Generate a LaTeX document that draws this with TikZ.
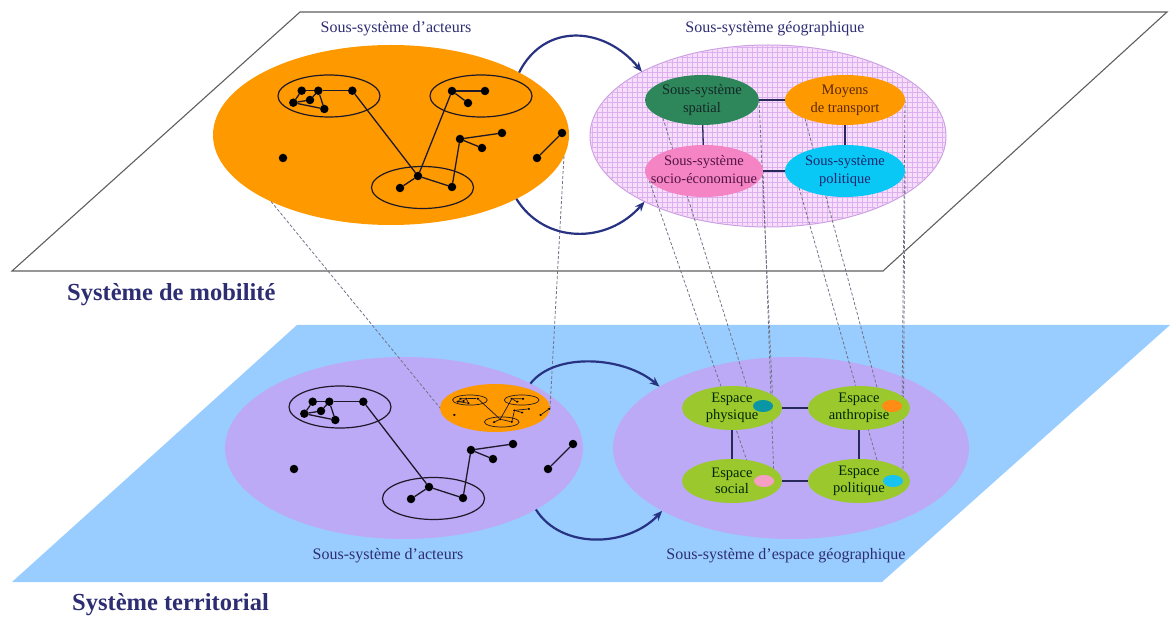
\documentclass[tikz,border=0pt]{standalone}
\usepackage{fontspec}
\setmainfont{Liberation Serif}
\usetikzlibrary{shapes.geometric,arrows.meta}
\pgfdeclarelayer{back}
\pgfdeclarelayer{mid}
\pgfsetlayers{back,mid,main}

\definecolor{navy}{RGB}{45,45,115}
\definecolor{arrowblue}{RGB}{40,50,130}
\definecolor{orangeA}{RGB}{255,153,0}
\definecolor{violetA}{RGB}{188,170,246}
\definecolor{planeblue}{RGB}{153,204,255}
\definecolor{planeedge}{RGB}{95,95,95}
\definecolor{gridfill}{RGB}{247,222,250}
\definecolor{gridline}{RGB}{220,175,238}
\definecolor{gridedge}{RGB}{205,160,228}
\definecolor{greenA}{RGB}{46,135,90}
\definecolor{pinkA}{RGB}{244,132,196}
\definecolor{cyanA}{RGB}{10,200,245}
\definecolor{limeA}{RGB}{155,200,45}
\definecolor{tealdot}{RGB}{10,150,165}
\definecolor{orangedot}{RGB}{255,140,20}
\definecolor{pinkdot}{RGB}{245,160,195}
\definecolor{cyandot}{RGB}{25,195,240}
\definecolor{dashgray}{RGB}{115,115,135}
\definecolor{netline}{RGB}{30,25,40}
\definecolor{linkcol}{RGB}{40,40,90}

\tikzset{
  netdot/.style={circle, fill=black, inner sep=0pt, outer sep=0pt, minimum size=8.5pt},
  netedge/.style={draw=netline, line width=1.3pt},
  cluster/.style={draw=netline, line width=1.2pt},
  bigell/.style={ellipse, inner sep=0pt, outer sep=0pt},
  subsys/.style={ellipse, inner sep=0pt, outer sep=0pt, minimum height=50pt},
  subtxt/.style={align=center, inner sep=0pt, font=\fontsize{14.5}{18}\selectfont},
  espace/.style={ellipse, fill=limeA, inner sep=0pt, outer sep=0pt, minimum width=100pt, minimum height=44pt},
  espacetxt/.style={align=center, inner sep=0pt, font=\fontsize{14.5}{16.5}\selectfont, text=black!85!green},
  smalldot/.style={ellipse, inner sep=0pt, outer sep=0pt, minimum width=20pt, minimum height=12pt},
  proj/.style={draw=dashgray, dash pattern=on 3pt off 2pt, line width=0.8pt},
  linkline/.style={draw=linkcol, line width=1.3pt},
  flow/.style={draw=arrowblue, line width=2.2pt, -{Stealth[length=10pt,width=8pt]}},
  sublabel/.style={font=\fontsize{16}{18}\selectfont, text=navy, inner sep=0pt},
  planelabel/.style={font=\bfseries\fontsize{24.5}{28}\selectfont, text=navy, anchor=west, inner sep=0pt},
}

% actor network (without the upper right cluster)
\newcommand{\netmain}{%
  \draw[cluster] (329,96) ellipse [x radius=51pt, y radius=21pt];
  \draw[cluster] (422.5,187.5) ellipse [x radius=51pt, y radius=21pt];
  \node[netdot] (a) at (301.7,90.7) {};
  \node[netdot] (b) at (318.3,90.7) {};
  \node[netdot] (c) at (310,100) {};
  \node[netdot] (d) at (293.3,102.7) {};
  \node[netdot] (e) at (324.3,109) {};
  \node[netdot] (f) at (352.3,90.7) {};
  \node[netdot] (g) at (418,176) {};
  \node[netdot] (h) at (400,188) {};
  \node[netdot] (i) at (452,187) {};
  \node[netdot] (m) at (460,139) {};
  \node[netdot] (n) at (502,133) {};
  \node[netdot] (o) at (482,148) {};
  \node[netdot] (p) at (283,158) {};
  \node[netdot] (q) at (537,158) {};
  \node[netdot] (r) at (562,133) {};
  \draw[netedge] (d) -- (a);
  \draw[netedge] (a) -- (b);
  \draw[netedge] (d) -- (c);
  \draw[netedge] (c) -- (b);
  \draw[netedge] (d) -- (e);
  \draw[netedge] (e) -- (b);
  \draw[netedge] (b) -- (f);
  \draw[netedge] (f) -- (g);
  \draw[netedge] (g) -- (h);
  \draw[netedge] (g) -- (i);
  \draw[netedge] (i) -- (m);
  \draw[netedge] (m) -- (n);
  \draw[netedge] (m) -- (o);
  \draw[netedge] (q) -- (r);
}
% upper right cluster
\newcommand{\netextra}{%
  \draw[cluster] (481,96) ellipse [x radius=51pt, y radius=21pt];
  \node[netdot] (j) at (452,91) {};
  \node[netdot] (k) at (485,91) {};
  \node[netdot] (l) at (468,103) {};
  \draw[netedge] (j) -- (k);
  \draw[netedge] (j) -- (l);
  \draw[netedge] (j) -- (g);
}

\begin{document}
\begin{tikzpicture}[x=1pt,y=-1pt]
\useasboundingbox (0,0) rectangle (1170,617);

\begin{pgfonlayer}{back}
  % planes
  \fill[white] (300,12) -- (1167,12) -- (883,271) -- (12,271) -- cycle;
  \draw[planeedge, line width=1.1pt] (300,12) -- (1167,12) -- (883,271) -- (12,271) -- cycle;
  \fill[planeblue] (297,325) -- (1170,325) -- (882,582) -- (12,582) -- cycle;
  % big ellipses
  \node[bigell, fill=orangeA, minimum width=356pt, minimum height=180pt] (actTop) at (391,135) {};
  \node[bigell, fill=gridfill, draw=gridedge, line width=1pt, minimum width=356pt, minimum height=182pt] (geoTop) at (768,136) {};
  \begin{scope}
    \clip (768,136) ellipse [x radius=177pt, y radius=90pt];
    \foreach \gx in {592,597,...,946} \draw[gridline, line width=0.45pt] (\gx,44) -- (\gx,229);
    \foreach \gy in {47,52,...,226} \draw[gridline, line width=0.45pt] (589,\gy) -- (948,\gy);
  \end{scope}
  \node[bigell, fill=violetA, minimum width=358pt, minimum height=182pt] (actBot) at (404,448) {};
  \node[bigell, fill=violetA, minimum width=356pt, minimum height=182pt] (geoBot) at (791,448) {};
  \node[bigell, fill=orangeA, minimum width=110pt, minimum height=48pt] (actMini) at (495,408) {};
\end{pgfonlayer}

% networks
\begin{scope}[name prefix=top-]
  \netmain
  \netextra
\end{scope}
\begin{scope}[name prefix=bot-, shift={(11,311)}]
  \netmain
\end{scope}
\begin{scope}[name prefix=mini-, shift={(358.1,377)}, xscale=0.34, yscale=0.24, transform shape,
              netedge/.append style={line width=0.7pt}, cluster/.append style={line width=0.7pt}]
  \netmain
  \netextra
\end{scope}

% geographic subsystem (mobility)
\node[subsys, fill=greenA, minimum width=114pt] (spatial) at (702,100) {};
\node[subsys, fill=orangeA, minimum width=120pt] (transport) at (845,100) {};
\node[subsys, fill=pinkA, minimum width=118pt, minimum height=52pt] (socio) at (704,171) {};
\node[subsys, fill=cyanA, minimum width=120pt, minimum height=52pt] (politique) at (845,171) {};
\node[subtxt, text={rgb,255:red,20;green,40;blue,40}] (spatialT) at (spatial) {Sous-système\\spatial};
\node[subtxt, text={rgb,255:red,90;green,40;blue,10}] (transportT) at (transport) {Moyens\\de transport};
\node[subtxt, text={rgb,255:red,85;green,20;blue,70}] (socioT) at (socio) {Sous-système\\socio-économique};
\node[subtxt, text={rgb,255:red,25;green,40;blue,110}] (politiqueT) at (politique) {Sous-système\\politique};
\draw[linkline] (spatial) -- (transport);
\draw[linkline] (spatial) -- (socio);
\draw[linkline] (transport) -- (politique);
\draw[linkline] (socio) -- (politique);

% geographic space subsystem (territorial)
\node[espace] (physique) at (732,408) {};
\node[espace, minimum width=102pt] (anthro) at (859,408) {};
\node[espace] (social) at (732,481) {};
\node[espace, minimum width=102pt] (polesp) at (859,481) {};
\node[espacetxt] (physiqueT) at (physique) {Espace\\physique};
\node[espacetxt] (anthroT) at (anthro) {Espace\\anthropisé};
\node[espacetxt] (socialT) at (social) {Espace\\social};
\node[espacetxt] (polespT) at (polesp) {Espace\\politique};
\draw[linkline] (physique) -- (anthro);
\draw[linkline] (physique) -- (social);
\draw[linkline] (anthro) -- (polesp);
\draw[linkline] (social) -- (polesp);
\node[smalldot, fill=tealdot] (dPhys) at (763,406) {};
\node[smalldot, fill=orangedot] (dAnth) at (892,406) {};
\node[smalldot, fill=pinkdot] (dSoc) at (764,481) {};
\node[smalldot, fill=cyandot] (dPol) at (893,481) {};

% projection lines
\begin{pgfonlayer}{mid}
  \draw[proj] (actTop.209) -- (actMini.west);
  \draw[proj] (actTop.353) -- (actMini.east);
  \draw[proj] (spatial.205) -- (dPhys.west);
  \draw[proj] (spatial.east) -- (dPhys.east);
  \draw[proj] (socio.190) -- (dSoc.west);
  \draw[proj] (socio.east) -- (dSoc.east);
  \draw[proj] (transport.205) -- (dAnth.west);
  \draw[proj] (transport.east) -- (dAnth.east);
  \draw[proj] (politique.200) -- (dPol.west);
  \draw[proj] (politique.east) -- (dPol.east);
\end{pgfonlayer}

% flows between subsystems
\draw[flow] (actTop.26) .. controls +(25,-50) and +(-38,-46) .. (geoTop.153);
\draw[flow] (actTop.333) .. controls +(28,45) and +(-38,43) .. (geoTop.208);
\draw[flow] (actBot.27) .. controls +(25,-32) and +(-35,-30) .. (geoBot.155);
\draw[flow] (actBot.335) .. controls +(25,40) and +(-35,37) .. (geoBot.206);

% labels
\node[sublabel] (lblActTop) at (396,29) {Sous-système d’acteurs};
\node[sublabel] (lblGeoTop) at (775,29) {Sous-système géographique};
\node[sublabel] (lblActBot) at (388,556) {Sous-système d’acteurs};
\node[sublabel] (lblGeoBot) at (786,556) {Sous-système d’espace géographique};
\node[planelabel] (lblMob) at (67,295) {Système de mobilité};
\node[planelabel] (lblTer) at (72,605) {Système territorial};
\end{tikzpicture}
\end{document}
